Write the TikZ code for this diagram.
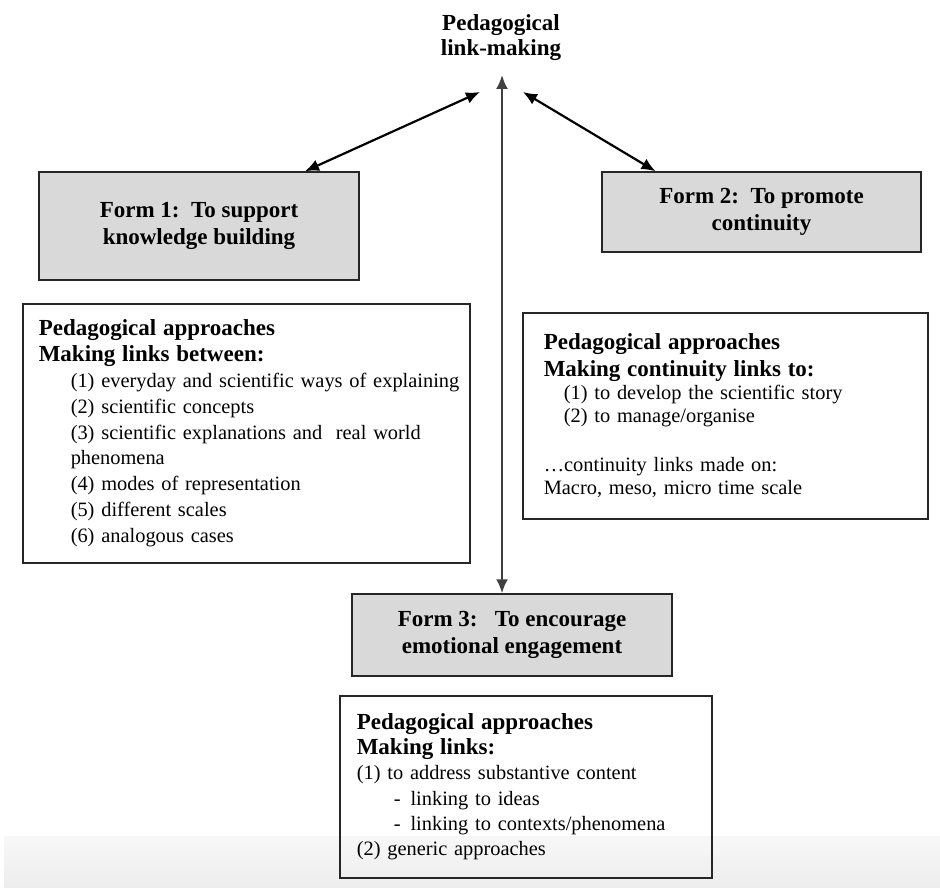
\documentclass[tikz,border=0pt]{standalone}
\usepackage{fontspec}
\setmainfont{Liberation Serif}
\usetikzlibrary{arrows.meta,calc}

\newcommand\apphead[1]{{\bfseries\fontsize{11.5}{13}\selectfont #1}}

\tikzset{
    formbox/.style={draw=black!85,fill=black!15,line width=0.75pt,align=center,
        font=\bfseries\fontsize{11.5}{13.5}\selectfont},
    textbox/.style={draw=black!85,line width=0.75pt,anchor=north west,align=left,inner ysep=0pt},
    link/.style={<->,line width=1.1pt}
}

\begin{document}
\begin{tikzpicture}[>={Latex[length=7pt,width=6pt]},x=0.5pt,y=-0.5pt]
    \useasboundingbox (0,0) rectangle (940,887);
    % faint band at the foot of the page
    \shade[top color=black!3,bottom color=black!7] (4,836) rectangle (940,887);

    \node[align=center,font=\bfseries\fontsize{11.5}{12.5}\selectfont] (top) at (501,38) {Pedagogical\\link-making};

    \node[formbox,minimum width=160pt,minimum height=54pt] (form1) at (199,226) {Form 1:\ \ To support\\knowledge building};
    \node[formbox,minimum width=159.5pt,minimum height=40pt] (form2) at (761.5,212) {Form 2:\ \ To promote\\continuity};
    \node[formbox,minimum width=160pt,minimum height=41pt] (form3) at (512,635) {Form 3:\ \ \ To encourage\\emotional engagement};

    \node[textbox,inner xsep=8pt,text width=207.5pt,minimum height=129.5pt,
        font=\fontsize{10.2}{12.95}\selectfont] (app1) at (22,303) {%
        \apphead{Pedagogical approaches}\\
        \apphead{Making links between:}\\
        \hspace*{16pt}\mbox{(1) everyday and scientific ways of explaining}\\
        \hspace*{16pt}(2) scientific concepts\\
        \hspace*{16pt}(3) scientific explanations and\ \ real world\\
        \hspace*{16pt}phenomena\\
        \hspace*{16pt}(4) modes of representation\\
        \hspace*{16pt}(5) different scales\\
        \hspace*{16pt}(6) analogous cases};

    \node[textbox,inner xsep=10.5pt,text width=181.5pt,minimum height=103pt,
        font=\fontsize{10.2}{11.5}\selectfont] (app2) at (522,312) {%
        \apphead{Pedagogical approaches}\\[2pt]
        \apphead{Making continuity links to:}\\
        \hspace*{10pt}(1) to develop the scientific story\\
        \hspace*{10pt}(2) to manage/organise\\[13pt]
        …continuity links made on:\\
        Macro, meso, micro time scale\\[11pt]};

    \node[textbox,inner xsep=8.5pt,text width=169pt,minimum height=91pt,
        font=\fontsize{10.2}{12.6}\selectfont] (app3) at (339,695) {%
        \apphead{Pedagogical approaches}\\
        \apphead{Making links:}\\
        (1) to address substantive content\\
        \hspace*{18.5pt}-\hspace{5pt}linking to ideas\\
        \hspace*{18.5pt}-\hspace{5pt}linking to contexts/phenomena\\
        (2) generic approaches};

    \coordinate (tipL) at (480,92);
    \coordinate (tipM) at (502,75);
    \coordinate (tipR) at (523,92);
    \draw[link] (tipL) -- ($(form1.north)+(106,0)$);
    \draw[link] (tipR) -- ($(form2.north)+(-106,0)$);
    \draw[link,black!75] (tipM) -- (tipM |- form3.north);
\end{tikzpicture}
\end{document}
